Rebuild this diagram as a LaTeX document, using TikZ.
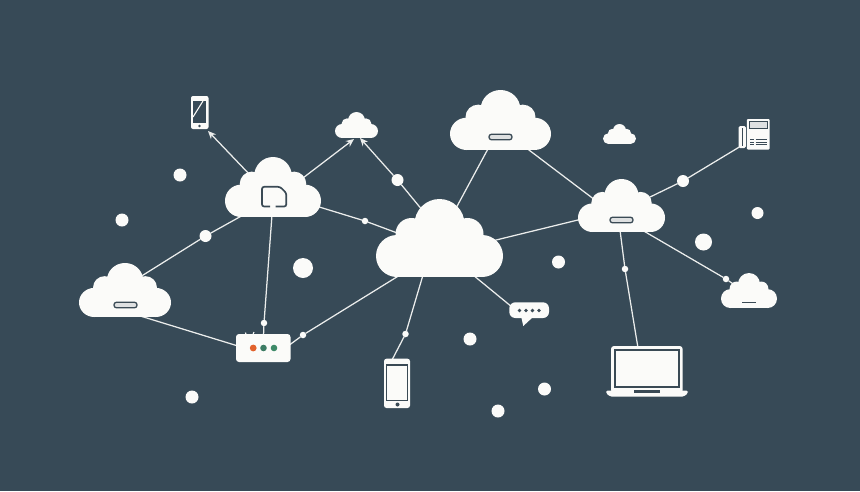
\documentclass[tikz,border=0pt]{standalone}
\usetikzlibrary{arrows.meta,calc}
\definecolor{bgc}{HTML}{374A57}
\definecolor{ink}{HTML}{3A4A55}
\definecolor{wht}{HTML}{FBFBF9}
\definecolor{ledo}{HTML}{E2622C}
\definecolor{leda}{HTML}{3D7C64}
\definecolor{ledb}{HTML}{3E8A68}
\tikzset{
  x=1pt,y=-1pt,
  hitbox/.style 2 args={inner sep=0,outer sep=0,minimum width=#1pt,minimum height=#2pt},
  dotb/.style={circle,fill=wht,inner sep=0,outer sep=0,minimum size=12pt},
  dots/.style={circle,fill=wht,inner sep=0,outer sep=0,minimum size=6.5pt},
  link/.style={draw=wht!92!bgc,line width=1.25pt},
  arrowlink/.style={link,-{Stealth[length=8pt,width=7pt,fill=wht]}},
  inkline/.style={draw=ink,line width=1.7pt}
}
% #1 node name, #2 width, #3 height
\newcommand{\cloudshape}[3]{%
  \begin{scope}[shift={(#1.north)},xscale=#2/127,yscale=#3/78]
    \fill[wht] (-42.5,57) circle (21) (42.5,57) circle (21)
      (-28,35) circle (16) (28,35) circle (16) (0,25) circle (25);
    \fill[wht] (-42.5,36) rectangle (42.5,78);
  \end{scope}}
\newcommand{\slotshape}[1]{%
  \draw[fill=wht!85!bgc,draw=ink,line width=1.3pt,rounded corners=2.6pt]
    ($(#1)+(-11.5,-2.8)$) rectangle ($(#1)+(11.5,2.8)$);}
\begin{document}
\begin{tikzpicture}
\useasboundingbox (0,0) rectangle (860,491);
\fill[bgc] (0,0) rectangle (860,491);
% hit boxes
\node[hitbox={127}{78}] (main) at (439.5,238) {};
\node[hitbox={96}{60}] (nw) at (273,187) {};
\node[hitbox={101}{60}] (top) at (500.5,120) {};
\node[hitbox={87}{53}] (east) at (621.5,205.5) {};
\node[hitbox={92}{54}] (west) at (125,290) {};
\node[hitbox={43}{26}] (small) at (356.5,125) {};
\node[hitbox={33}{20}] (deco) at (619.5,134) {};
\node[hitbox={56}{35}] (rsmall) at (749,290.5) {};
\node[hitbox={17}{33}] (phonea) at (199.5,112.5) {};
\node[hitbox={26}{49}] (phoneb) at (397,383.5) {};
\node[hitbox={55}{28}] (router) at (263.5,348) {};
\node[hitbox={40}{16}] (chat) at (529,310) {};
\node[hitbox={82}{50}] (laptop) at (647,371.5) {};
\node[hitbox={31}{31}] (desk) at (754,134) {};
% relay dots
\node[dotb] (d1) at (205.5,236) {};
\node[dotb] (d2) at (397.5,180) {};
\node[dotb] (d3) at (683,181) {};
\node[dots] (d4) at (365,221) {};
\node[dots] (d5) at (264,323) {};
\node[dots] (d6) at (303,335) {};
\node[dots] (d7) at (405.5,334) {};
\node[dots] (d8) at (625,269) {};
\node[dots] (d9) at (726,279) {};
% free dots
\foreach \n/\p/\s in {f1/{180,175}/13,f2/{122,220}/13,f3/{303,268}/20,f4/{558.5,262}/13,
  f5/{703.5,242}/17,f6/{757.5,213}/12,f7/{470,339}/13,f8/{544.5,389}/13,f9/{498,411}/13,f10/{192,397}/13}
  \node[circle,fill=wht,inner sep=0,minimum size=\s pt] (\n) at (\p) {};
% connectors
\draw[arrowlink] ($(nw)+(-22,-11)$) -- ($(phonea)+(8.5,18.5)$);
\draw[arrowlink] ($(nw)+(26,-6)$) -- ($(small)+(-2.5,14)$);
\draw[link] ($(main)+(-16.5,-27)$) -- (d2);
\draw[arrowlink] (d2) -- ($(small)+(3.5,13)$);
\draw[link] ($(nw)+(43,19)$) -- (d4);
\draw[link] (d4) -- ($(main)+(-39.5,-4)$);
\draw[link] ($(west)+(15,-13)$) -- (d1);
\draw[link] (d1) -- ($(nw)+(-28,27)$);
\draw[link] ($(nw)+(-1,28)$) -- (d5);
\draw[link] (d5) -- ($(router)+(0,-12)$);
\draw[link] ($(west)+(12,25)$) -- ($(router)+(-25.5,-2)$);
\draw[link] ($(router)+(24.5,-2)$) -- (d6);
\draw[link] (d6) -- ($(main)+(-39.5,37)$);
\draw[link] ($(main)+(-16.5,37)$) -- (d7);
\draw[link] (d7) -- ($(phoneb)+(-5,-23.5)$);
\draw[link] ($(main)+(33.5,37)$) -- ($(chat)+(-17,-3)$);
\draw[link] ($(main)+(15.5,-28)$) -- ($(top)+(-11.5,27)$);
\draw[link] ($(main)+(52.5,3)$) -- ($(east)+(-39.5,13.5)$);
\draw[link] ($(top)+(24.5,27)$) -- ($(east)+(-26.5,-5.5)$);
\draw[link] ($(east)+(26.5,-7.5)$) -- (d3);
\draw[link] (d3) -- ($(desk)+(-13,12)$);
\draw[link] ($(east)+(20.5,24.5)$) -- (d9);
\draw[link] (d9) -- ($(rsmall)+(-15,-6)$);
\draw[link] ($(east)+(-1.5,24.5)$) -- (d8);
\draw[link] (d8) -- ($(laptop)+(-9,-23.5)$);
% clouds
\cloudshape{main}{127}{78}
\cloudshape{nw}{96}{60}
\cloudshape{top}{101}{60}
\cloudshape{east}{87}{53}
\cloudshape{west}{92}{54}
\cloudshape{small}{43}{26}
\cloudshape{deco}{33}{20}
\cloudshape{rsmall}{56}{35}
\coordinate (s1) at (500.5,137);
\coordinate (s2) at (621.5,220);
\coordinate (s3) at (125.5,305);
\slotshape{s1}
\slotshape{s2}
\slotshape{s3}
\draw[ink,line width=1.3pt] ($(rsmall)+(-7,12)$) -- ($(rsmall)+(6.5,12)$);
% document glyph in nw cloud
\draw[inkline,rounded corners=2.2pt] (270,206.5) -- (262,206.5) -- (262,186.8) -- (280,186.8) -- (286.3,193) -- (286.3,206.5) -- (275.5,206.5);
% phone a
\fill[wht,rounded corners=2pt] (191,96) rectangle (208.5,129);
\fill[bgc] (193,100.5) rectangle (206,123);
\draw[wht,line width=1.1pt] (193,117) -- (203,101);
\fill[ink] (199.5,126) circle (1.4);
% phone b
\fill[wht,rounded corners=2.5pt] (384,358.7) rectangle (410,408);
\draw[ink,line width=1.3pt,fill=wht] (386.8,365) rectangle (407.6,400.5);
\fill[ink] (397.5,404.5) circle (2);
% router
\fill[wht,rounded corners=3pt] (236,334) rectangle (290.5,362);
\draw[wht,line width=1.1pt] (246,334.5) -- (245.5,332.5) (253,334.5) -- (254,332);
\fill[ledo] (253.2,348) circle (3.4);
\fill[leda] (263.5,348) circle (3.3);
\fill[ledb] (274,348) circle (3.3);
% chat
\fill[wht,rounded corners=6pt] (509.3,302.3) rectangle (549,318);
\fill[wht] (521,316) -- (523.3,326) -- (533,317) -- cycle;
\foreach \x in {519.5,526,532.4,539} \fill[ink] (\x,310.5) circle (1.9);
% laptop
\fill[wht,rounded corners=3pt] (611,346) rectangle (682.7,393);
\draw[ink,line width=1.6pt,fill=wht] (615.2,350.2) rectangle (678.7,387.2);
\fill[wht,rounded corners=1.5pt] (606,390.5) -- (688,390.5) -- (688,393) -- (684,396.5) -- (610,396.5) -- (606,393) -- cycle;
\fill[ink] (634,390.4) rectangle (660,392.8);
% desk phone
\fill[wht,rounded corners=1pt] (746.8,119) rectangle (769.5,149.5);
\fill[wht,rounded corners=1.5pt] (738.5,126) rectangle (745.8,148);
\draw[ink,line width=0.8pt] (742,128) -- (742,146);
\draw[ink,line width=1pt,fill=wht!85!bgc] (749.2,121.8) rectangle (767,128.2);
\foreach \y in {139.3,142,144.8}{
  \draw[ink,line width=1pt] (750,\y) -- (753.5,\y);
  \draw[ink,line width=1pt] (755.5,\y) -- (767,\y);}
\end{tikzpicture}
\end{document}
